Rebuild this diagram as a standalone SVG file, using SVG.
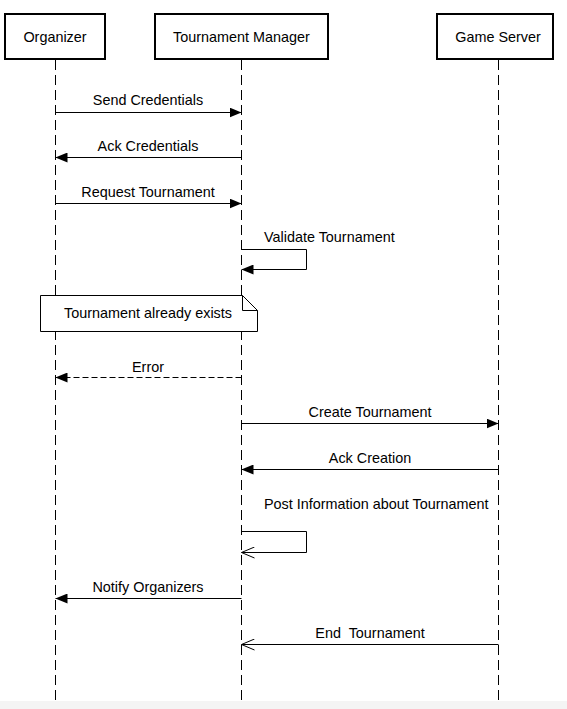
<svg xmlns="http://www.w3.org/2000/svg" width="567" height="709" viewBox="0 0 567 709">
<style>
.box{fill:#fff;stroke:#000;stroke-width:2}
.life{stroke:#000;stroke-width:1;stroke-dasharray:10 5;fill:none}
.msg{stroke:#000;stroke-width:1;fill:none}
.dash{stroke-dasharray:6 3}
text{font-family:"Liberation Sans",Arial,sans-serif;font-size:14.4px;fill:#000;white-space:pre}
.c{text-anchor:middle}
</style>
<defs>
<marker id="fill" viewBox="0 0 12 10" refX="12" refY="5" markerWidth="12" markerHeight="10" markerUnits="userSpaceOnUse" orient="auto">
<path d="M0,0 L12,5 L0,10 Z" fill="#000"/>
</marker>
<marker id="open" viewBox="0 0 14 12" refX="13" refY="6" markerWidth="14" markerHeight="12" markerUnits="userSpaceOnUse" orient="auto">
<path d="M0,0.5 L13,6 L0,11.5" fill="none" stroke="#000" stroke-width="1"/>
</marker>
</defs>
<rect x="0" y="701" width="567" height="8" fill="#f4f4f4"/>
<g id="lifelines">
<line class="life" x1="55.5" y1="60" x2="55.5" y2="701"/>
<line class="life" x1="241.5" y1="60" x2="241.5" y2="701"/>
<line class="life" x1="498.5" y1="60" x2="498.5" y2="701"/>
</g>
<g id="organizer"><rect class="box" x="5" y="14" width="100" height="45"/><text class="c" x="55" y="42">Organizer</text></g>
<g id="tournament-manager"><rect class="box" x="155" y="14" width="173" height="45"/><text class="c" x="241.5" y="42">Tournament Manager</text></g>
<g id="game-server"><rect class="box" x="437" y="14" width="116" height="45"/><text class="c" x="498" y="42">Game Server</text></g>
<g id="note"><path d="M40.5,295.5 H242.5 L257.5,310.5 V331.5 H40.5 Z" fill="#fff" stroke="#000"/><path d="M242.5,295.5 V310.5 H257.5" fill="none" stroke="#000"/><text class="c" x="148" y="318">Tournament already exists</text></g>
<g id="connectors">
<line class="msg" x1="55.5" y1="112.5" x2="241.5" y2="112.5" marker-end="url(#fill)"/>
<text class="c" x="148" y="105">Send Credentials</text>
<line class="msg" x1="241.5" y1="157.5" x2="55.5" y2="157.5" marker-end="url(#fill)"/>
<text class="c" x="148" y="151">Ack Credentials</text>
<line class="msg" x1="55.5" y1="203.5" x2="241.5" y2="203.5" marker-end="url(#fill)"/>
<text class="c" x="148" y="197">Request Tournament</text>
<path class="msg" d="M241.5,249.5 H306.5 V269.5 H241.5" marker-end="url(#fill)"/>
<text x="264" y="242">Validate Tournament</text>
<line class="msg dash" x1="241.5" y1="377.5" x2="55.5" y2="377.5" marker-end="url(#fill)"/>
<text class="c" x="148" y="372">Error</text>
<line class="msg" x1="241.5" y1="423.5" x2="498.5" y2="423.5" marker-end="url(#fill)"/>
<text class="c" x="370" y="417">Create Tournament</text>
<line class="msg" x1="498.5" y1="469.5" x2="241.5" y2="469.5" marker-end="url(#fill)"/>
<text class="c" x="370" y="463">Ack Creation</text>
<path class="msg" d="M241.5,531.5 H306.5 V552.5 H241.5" marker-end="url(#open)"/>
<text x="264" y="509">Post Information about Tournament</text>
<line class="msg" x1="241.5" y1="598.5" x2="55.5" y2="598.5" marker-end="url(#fill)"/>
<text class="c" x="148" y="592">Notify Organizers</text>
<line class="msg" x1="498.5" y1="644.5" x2="241.5" y2="644.5" marker-end="url(#open)"/>
<text class="c" x="370" y="638" xml:space="preserve">End  Tournament</text>
</g>
</svg>
